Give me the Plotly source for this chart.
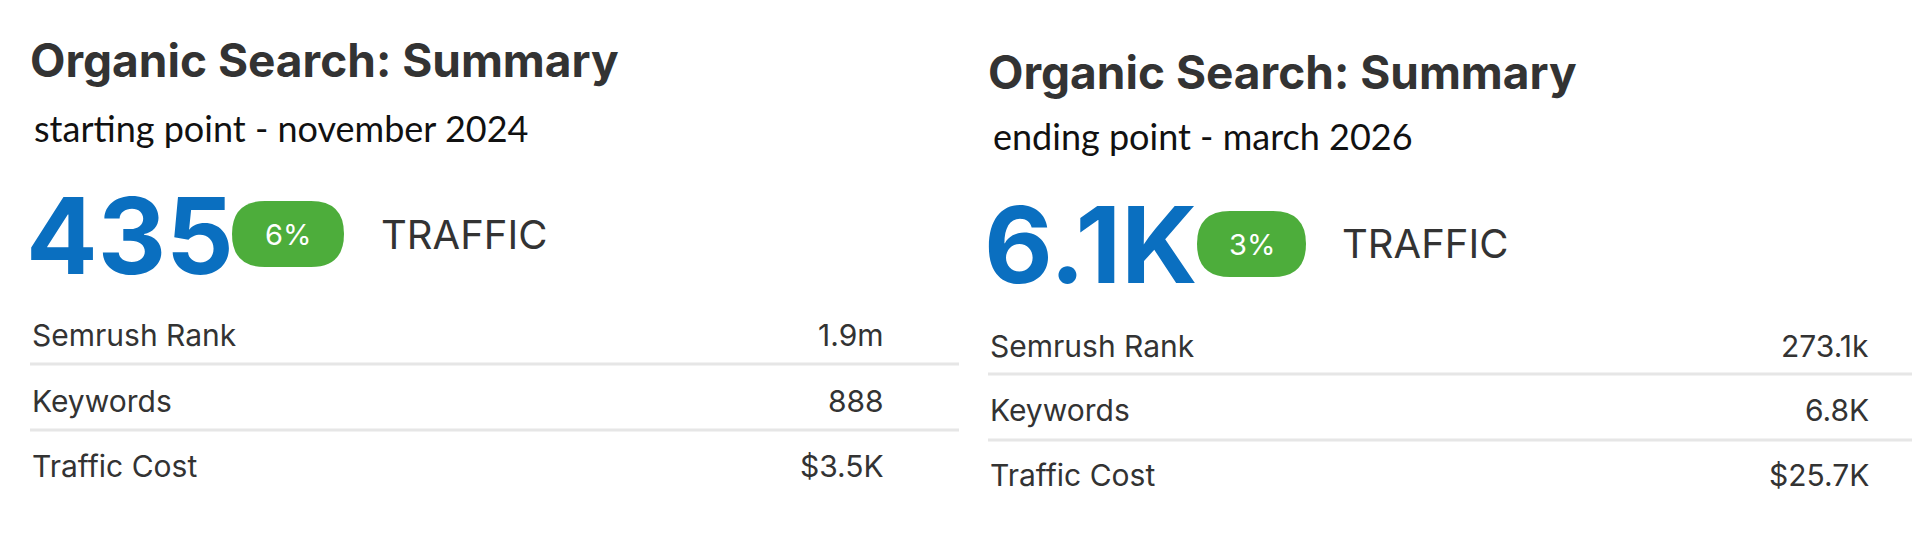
import plotly.graph_objects as go

titles = ["Organic Search: Summary", "Organic Search: Summary"]
subtitles = ["starting point - november 2024", "ending point - march 2026"]
traffic = ["435", "6.1K"]
changes = ["6%", "3%"]
row_labels = ["Semrush Rank", "Keywords", "Traffic Cost"]
row_values = [["1.9m", "888", "$3.5K"], ["273.1k", "6.8K", "$25.7K"]]

OFF = 9  # page body margin compensation
panels = [
    dict(x0=31, title_y=61, sub_x=33, sub_y=129, big_y=236, pill=(233, 345, 202, 268),
         traffic_x=380, rows_y=[336, 402, 467], lines_y=[365, 431], val_x=887, line_x1=960),
    dict(x0=989, title_y=73, sub_x=992, sub_y=137, big_y=245, pill=(1198, 1307, 212, 278),
         traffic_x=1341, rows_y=[347, 411, 476], lines_y=[375, 441], val_x=1872, line_x1=1930),
]

fig = go.Figure()
ann = []
shapes = []
for i, p in enumerate(panels):
    X = lambda v: v - OFF
    Y = lambda v: v - OFF
    ann.append(dict(x=X(p["x0"]) - 2, y=Y(p["title_y"]), text="<b>" + titles[i] + "</b>", xanchor="left", yanchor="middle",
                    font=dict(family="Inter", size=46, color="#333333")))
    ann.append(dict(x=X(p["sub_x"]), y=Y(p["sub_y"]), text=subtitles[i], xanchor="left", yanchor="middle",
                    font=dict(family="Lato", size=36, color="#111111")))
    ann.append(dict(x=X(p["x0"]) - 6, y=Y(p["big_y"]), text="<b>" + traffic[i] + "</b>", xanchor="left", yanchor="middle",
                    font=dict(family="Inter", size=106, color="#0a6fc0")))
    x0, x1, y0, y1 = [X(p["pill"][0]), X(p["pill"][1]), Y(p["pill"][2]), Y(p["pill"][3])]
    r = (y1 - y0) / 2
    path = (f"M {x0+r},{y0} L {x1-r},{y0} Q {x1},{y0} {x1},{y0+r} Q {x1},{y1} {x1-r},{y1} "
            f"L {x0+r},{y1} Q {x0},{y1} {x0},{y0+r} Q {x0},{y0} {x0+r},{y0} Z")
    shapes.append(dict(type="path", path=path, fillcolor="#4dad3b", line=dict(width=0), layer="above"))
    ann.append(dict(x=(x0 + x1) / 2, y=(y0 + y1) / 2, text=changes[i], xanchor="center", yanchor="middle",
                    font=dict(family="Inter", size=29, color="white")))
    ann.append(dict(x=X(p["traffic_x"]), y=Y(p["big_y"]) - 1, text="TRAFFIC", xanchor="left", yanchor="middle",
                    font=dict(family="Inter", size=40, color="#333333")))
    for j, lab in enumerate(row_labels):
        ann.append(dict(x=X(p["x0"]), y=Y(p["rows_y"][j]), text=lab, xanchor="left", yanchor="middle",
                        font=dict(family="Inter", size=30, color="#333333")))
        ann.append(dict(x=X(p["val_x"]), y=Y(p["rows_y"][j]), text=row_values[i][j], xanchor="right", yanchor="middle",
                        font=dict(family="Inter", size=30, color="#333333")))
    for ly in p["lines_y"]:
        shapes.append(dict(type="line", x0=X(p["x0"]), x1=X(p["line_x1"]), y0=Y(ly), y1=Y(ly),
                           line=dict(color="#e6e6e6", width=3)))

for a in ann:
    a.update(xref="x", yref="y", showarrow=False)

fig.update_layout(
    width=1920, height=550, margin=dict(l=0, r=0, t=0, b=0),
    paper_bgcolor="white", plot_bgcolor="white",
    xaxis=dict(range=[0, 1920], visible=False, fixedrange=True),
    yaxis=dict(range=[550, 0], visible=False, fixedrange=True),
    annotations=ann, shapes=shapes, showlegend=False,
)
fig.write_html("out.html")
